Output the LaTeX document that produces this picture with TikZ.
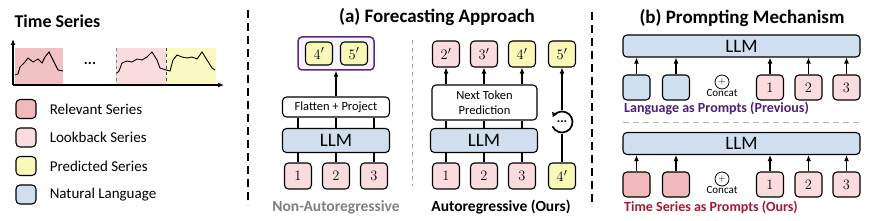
\documentclass[tikz,border=0pt]{standalone}
\usepackage{fontspec}
\setmainfont{Carlito}
\usetikzlibrary{positioning,arrows.meta}
\definecolor{relcol}{RGB}{240,186,188}
\definecolor{lookcol}{RGB}{250,220,223}
\definecolor{predcol}{RGB}{250,248,182}
\definecolor{langcol}{RGB}{207,223,240}
\definecolor{purp}{RGB}{88,40,130}
\definecolor{prevcol}{RGB}{80,30,120}
\definecolor{ourscol}{RGB}{165,25,50}
\begin{document}
\begin{tikzpicture}[x=1pt,y=-1pt,
  box/.style={draw,rounded corners=4pt,line width=1.1pt,inner sep=0pt,font=\fontsize{15}{15}\selectfont},
  tok/.style={box,minimum width=27pt,minimum height=26pt},
  llm/.style={box,fill=langcol,minimum height=24pt,font=\fontsize{19}{19}\selectfont},
  arr/.style={line width=1.1pt,-{Latex[length=6pt,width=5pt]}},
  head/.style={font=\bfseries\fontsize{19}{19}\selectfont},
  sublabel/.style={font=\bfseries\fontsize{15.5}{15.5}\selectfont},
  legtext/.style={font=\fontsize{15}{15}\selectfont,inner sep=0pt},
  sep/.style={line width=1.4pt,dash pattern=on 8pt off 5pt}]
\useasboundingbox (0,0) rectangle (874,221);

\node[anchor=west,font=\bfseries\fontsize{18}{18}\selectfont] (tstitle) at (11,21) {Time Series};
\fill[relcol!90] (15,48) rectangle (63,84);
\fill[lookcol] (116,48) rectangle (166,84);
\fill[predcol!85] (166,48) rectangle (216,84);
\draw[gray,dashed,thin] (116,48) -- (116,84);
\draw[black!75,dashed,thin] (166,48) -- (166,84);
\draw[line width=0.9pt] (15,75) -- (18,74) -- (20,67) -- (25,62) -- (28,58) -- (33,62) -- (38,59) -- (42,63) -- (45,57) -- (49,52) -- (53,60) -- (58,70) -- (63,71);
\draw[line width=0.9pt] (117,73) -- (119,71) -- (122,63) -- (127,61) -- (132,62) -- (137,59) -- (142,60) -- (147,57) -- (152,52) -- (157,60) -- (160,68) -- (166,70);
\draw[line width=0.9pt] (166,70) -- (170,71) -- (173,60) -- (177,55) -- (182,57) -- (187,58) -- (192,57) -- (197,59) -- (202,52) -- (207,60) -- (212,68) -- (215,70);
\coordinate (orig) at (13,85);
\draw[line width=1.2pt,-{Latex[length=6pt,width=5pt]}] (orig) -- (13,39);
\draw[line width=1.2pt,-{Latex[length=6pt,width=5pt]}] (orig) -- (224,85);
\node[font=\bfseries\fontsize{15}{15}\selectfont] (tsdots) at (90,63) {...};

\node[box,fill=relcol,minimum width=20pt,minimum height=19pt] (lg1) at (26,109) {};
\node[legtext,right=13pt of lg1] {Relevant Series};
\node[box,fill=lookcol,minimum width=20pt,minimum height=19pt] (lg2) at (26,137.5) {};
\node[legtext,right=13pt of lg2] {Lookback Series};
\node[box,fill=predcol,minimum width=20pt,minimum height=19pt] (lg3) at (26,166) {};
\node[legtext,right=13pt of lg3] {Predicted Series};
\node[box,fill=langcol,minimum width=20pt,minimum height=19pt] (lg4) at (26,194.5) {};
\node[legtext,right=13pt of lg4] {Natural Language};

\coordinate (s1a) at (248,10);
\coordinate (s1b) at (248,205);
\draw[sep] (s1a) -- (s1b);
\coordinate (s2a) at (592,12);
\coordinate (s2b) at (592,205);
\draw[sep] (s2a) -- (s2b);

\node[head] (tita) at (437,17) {(a) Forecasting Approach};
\coordinate (s3a) at (412,40);
\coordinate (s3b) at (412,186);
\draw[gray!70,line width=0.8pt,dash pattern=on 4pt off 4pt] (s3a) -- (s3b);

\node[box,draw=purp,line width=1.5pt,fill=purp!5,minimum width=76pt,minimum height=33pt] (pbox) at (336,53.5) {};
\node[tok,fill=predcol,minimum height=23pt] (o4) at (319,53.5) {$4'$};
\node[tok,fill=predcol,minimum height=23pt] (o5) at (354,53.5) {$5'$};
\node[box,fill=white,minimum width=107pt,minimum height=20pt,font=\fontsize{12.5}{12.5}\selectfont] (flat) at (336,107) {Flatten + Project};
\node[llm,minimum width=107pt] (llmA) at (336,140.5) {LLM};
\node[tok,fill=lookcol] (a1) at (298,176) {$1$};
\node[tok,fill=lookcol] (a2) at (336,176) {$2$};
\node[tok,fill=lookcol] (a3) at (374,176) {$3$};
\foreach \i in {a1,a2,a3} {
  \draw[line width=1.1pt] (\i) -- (\i |- llmA.south);
  \draw[line width=1.1pt] (llmA.north -| \i) -- (flat.south -| \i);
}
\draw[arr] (flat) -- (pbox);
\node[sublabel,text=black!50] (nonar) at (336,207) {Non-Autoregressive};

\node[box,fill=white,minimum width=105pt,minimum height=35pt,align=center,font=\fontsize{12.5}{15}\selectfont] (ntp) at (484.5,102.5) {Next Token\\Prediction};
\node[llm,minimum width=107pt] (llmB) at (484,140.5) {LLM};
\node[tok,fill=lookcol] (b1) at (446,176) {$1$};
\node[tok,fill=lookcol] (b2) at (484,176) {$2$};
\node[tok,fill=lookcol] (b3) at (522,176) {$3$};
\node[tok,fill=predcol] (b4) at (562,176) {$4'$};
\node[tok,fill=lookcol] (c2) at (446,54) {$2'$};
\node[tok,fill=lookcol] (c3) at (484,54) {$3'$};
\node[tok,fill=predcol] (c4) at (522,54) {$4'$};
\node[tok,fill=predcol] (c5) at (562,54) {$5'$};
\foreach \i/\j in {b1/c2,b2/c3,b3/c4} {
  \draw[line width=1.1pt] (\i) -- (\i |- llmB.south);
  \draw[line width=1.1pt] (llmB.north -| \i) -- (ntp.south -| \i);
  \draw[arr] (ntp.north -| \j) -- (\j);
}
\draw[arr] (b4) -- (c5);
\node[circle,fill=white,minimum size=24pt,inner sep=0pt,font=\bfseries\fontsize{13}{13}\selectfont] (loop) at (562,122) {...};
\draw[line width=1.7pt,-{Latex[length=5pt,width=6pt]}] ([shift={(205:10.5pt)}]loop.center) arc[start angle=205,end angle=515,radius=10.5pt];
\node[sublabel] (ar) at (501,207) {Autoregressive (Ours)};

\node[head] (titb) at (742,18) {(b) Prompting Mechanism};
\node[llm,minimum width=237pt,minimum height=22pt] (llmC) at (741.5,46) {LLM};
\node[tok,fill=langcol,minimum height=25pt] (p1) at (636.5,87.5) {};
\node[tok,fill=langcol,minimum height=25pt] (p2) at (676,87.5) {};
\node[circle,draw,line width=0.8pt,minimum size=14pt,inner sep=0pt] (cc1) at (722,82) {$+$};
\node[below=0pt of cc1,inner sep=0pt,font=\fontsize{11}{11}\selectfont] (cat1) {Concat};
\node[tok,fill=lookcol,minimum height=25pt] (q1) at (770,87.5) {$1$};
\node[tok,fill=lookcol,minimum height=25pt] (q2) at (808.5,87.5) {$2$};
\node[tok,fill=lookcol,minimum height=25pt] (q3) at (846.5,87.5) {$3$};
\foreach \i in {p1,p2,q1,q2,q3}
  \draw[arr] (\i) -- (\i |- llmC.south);
\node[anchor=west,inner sep=0pt,text=prevcol,font=\bfseries\fontsize{14}{14}\selectfont] (prev) at (624,108) {Language as Prompts (Previous)};
\coordinate (s4a) at (623,123);
\coordinate (s4b) at (860,123);
\draw[gray!60,line width=1pt,dash pattern=on 6pt off 4pt] (s4a) -- (s4b);

\node[llm,minimum width=237pt,minimum height=22pt] (llmD) at (741.5,143.5) {LLM};
\node[tok,fill=relcol,minimum height=25pt] (r1) at (636.5,184.5) {};
\node[tok,fill=relcol,minimum height=25pt] (r2) at (676,184.5) {};
\node[circle,draw,line width=0.8pt,minimum size=14pt,inner sep=0pt] (cc2) at (722,179) {$+$};
\node[below=0pt of cc2,inner sep=0pt,font=\fontsize{11}{11}\selectfont] (cat2) {Concat};
\node[tok,fill=lookcol,minimum height=25pt] (t1) at (770,184.5) {$1$};
\node[tok,fill=lookcol,minimum height=25pt] (t2) at (808.5,184.5) {$2$};
\node[tok,fill=lookcol,minimum height=25pt] (t3) at (846.5,184.5) {$3$};
\foreach \i in {r1,r2,t1,t2,t3}
  \draw[arr] (\i) -- (\i |- llmD.south);
\node[anchor=west,inner sep=0pt,text=ourscol,font=\bfseries\fontsize{14}{14}\selectfont] (ours) at (624,207) {Time Series as Prompts (Ours)};
\end{tikzpicture}
\end{document}
